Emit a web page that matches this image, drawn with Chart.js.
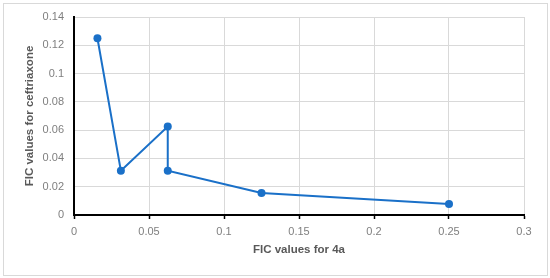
<!DOCTYPE html>
<html lang="en">
<head>
    <meta charset="UTF-8">
    <title>FIC values</title>
    <script src="https://cdn.jsdelivr.net/npm/chart.js"></script>
    <style>
        html, body { margin: 0; padding: 0; background: #fff; }
        .wrap { position: relative; width: 550px; height: 278px; }
        .frame {
            position: absolute; left: 3px; top: 3px; width: 543px; height: 271px;
            border: 1px solid #d9d9d9; pointer-events: none;
        }
    </style>
</head>
<body>
    <div class="wrap">
        <canvas id="ficChart" width="550" height="278"></canvas>
        <div class="frame"></div>
    </div>
    <script>
        // FIC values
        const ficX = [0.015625, 0.03125, 0.0625, 0.0625, 0.125, 0.25];
        const ficY = [0.125, 0.03125, 0.0625, 0.03125, 0.015625, 0.0078125];
        const xTitle = 'FIC values for 4a';
        const yTitle = 'FIC values for ceftriaxone';

        const lineBlue = '#1a70c8';
        const gridGray = '#d9d9d9';
        const tickGray = '#7f7f7f';
        const titleGray = '#595959';
        const fontFam = '"Liberation Sans", Arial, sans-serif';

        new Chart(document.getElementById('ficChart'), {
            type: 'scatter',
            data: {
                datasets: [{
                    data: ficX.map((x, i) => ({ x: x, y: ficY[i] })),
                    showLine: true,
                    borderColor: lineBlue,
                    backgroundColor: lineBlue,
                    borderWidth: 2,
                    pointRadius: 4,
                    pointBorderWidth: 0,
                    tension: 0
                }]
            },
            options: {
                responsive: false,
                animation: false,
                layout: { padding: { left: 0, top: 17, right: 26, bottom: 0 } },
                plugins: {
                    legend: { display: false },
                    tooltip: { enabled: false }
                },
                scales: {
                    x: {
                        type: 'linear',
                        min: 0,
                        max: 0.3,
                        afterFit: s => { s.height = 63; },
                        ticks: {
                            stepSize: 0.05,
                            padding: 6,
                            color: tickGray,
                            font: { family: fontFam, size: 11 },
                            callback: v => String(Math.round(v * 100) / 100)
                        },
                        grid: {
                            color: gridGray,
                            lineWidth: 1,
                            tickColor: '#000',
                            tickLength: 4,
                            tickWidth: 1.5
                        },
                        border: { color: '#000', width: 2 },
                        title: {
                            display: true,
                            text: xTitle,
                            color: titleGray,
                            padding: { top: 0, bottom: 21 },
                            font: { family: fontFam, size: 11.5, weight: 'bold' }
                        }
                    },
                    y: {
                        min: 0,
                        max: 0.14,
                        afterFit: s => { s.width = 74; },
                        ticks: {
                            stepSize: 0.02,
                            padding: 10,
                            color: tickGray,
                            font: { family: fontFam, size: 11 },
                            callback: v => String(Math.round(v * 100) / 100)
                        },
                        grid: {
                            color: gridGray,
                            lineWidth: 1,
                            drawTicks: false
                        },
                        border: { color: '#000', width: 2 },
                        title: {
                            display: true,
                            text: yTitle,
                            color: titleGray,
                            padding: { top: 23, bottom: 0 },
                            font: { family: fontFam, size: 11.5, weight: 'bold' }
                        }
                    }
                }
            }
        });
    </script>
</body>
</html>
